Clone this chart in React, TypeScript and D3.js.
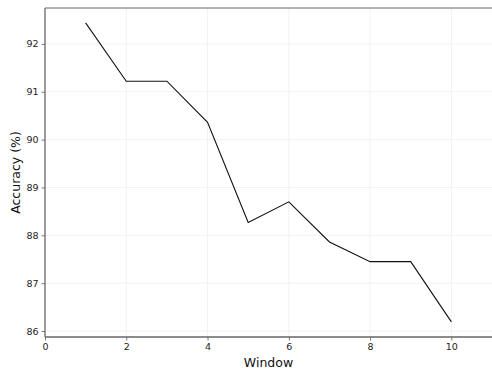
import { useEffect, useRef } from "react";
import * as d3 from "d3";

// data
const windows = [1, 2, 3, 4, 5, 6, 7, 8, 9, 10];
const accuracy = [92.44, 91.22, 91.22, 90.36, 88.27, 88.7, 87.86, 87.45, 87.45, 86.19];
const xTicks = [0, 2, 4, 6, 8, 10];
const yTicks = [86, 87, 88, 89, 90, 91, 92];

const W = 492;
const H = 369;

export default function App() {
  const ref = useRef<SVGSVGElement>(null);

  useEffect(() => {
    if (!ref.current) return;
    const svg = d3.select(ref.current);
    svg.selectAll("*").remove();

    const left = 45, right = 492, top = 8, bottom = 337;
    const font = "DejaVu Sans, sans-serif";

    const x = d3.scaleLinear().domain([0, 11]).range([left, right]);
    const y = d3.scaleLinear().domain([85.875, 92.75]).range([bottom, top]);

    // grid
    svg.append("g")
      .selectAll("line")
      .data(yTicks)
      .join("line")
      .attr("x1", left).attr("x2", right)
      .attr("y1", (d) => y(d)).attr("y2", (d) => y(d))
      .attr("stroke", "#f2f2f2").attr("stroke-width", 1);
    svg.append("g")
      .selectAll("line")
      .data(xTicks.filter((d) => d > 0))
      .join("line")
      .attr("x1", (d) => x(d)).attr("x2", (d) => x(d))
      .attr("y1", top).attr("y2", bottom)
      .attr("stroke", "#f2f2f2").attr("stroke-width", 1);

    // axes
    const xAxis = svg.append("g")
      .attr("transform", `translate(0,${bottom})`)
      .call(d3.axisBottom(x).tickValues(xTicks).tickSize(3.5).tickPadding(3).tickFormat(d3.format("d")));
    const yAxis = svg.append("g")
      .attr("transform", `translate(${left},0)`)
      .call(d3.axisLeft(y).tickValues(yTicks).tickSize(3.5).tickPadding(3).tickFormat(d3.format("d")));
    [xAxis, yAxis].forEach((a) => {
      a.select(".domain").remove();
      a.selectAll("line").attr("stroke", "#555").attr("stroke-width", 0.8);
      a.selectAll("text").attr("fill", "#222").style("font-family", font).style("font-size", "9.5px");
    });

    // spines
    svg.append("line")
      .attr("x1", left).attr("x2", right).attr("y1", top).attr("y2", top)
      .attr("stroke", "#666").attr("stroke-width", 1);
    svg.append("line")
      .attr("x1", left).attr("x2", left).attr("y1", top).attr("y2", bottom)
      .attr("stroke", "#666").attr("stroke-width", 1.3);
    svg.append("line")
      .attr("x1", left).attr("x2", right).attr("y1", bottom).attr("y2", bottom)
      .attr("stroke", "#666").attr("stroke-width", 1.3);

    // line
    const line = d3.line<number>()
      .x((_, i) => x(windows[i]))
      .y((d) => y(d));
    svg.append("path")
      .datum(accuracy)
      .attr("d", line)
      .attr("fill", "none")
      .attr("stroke", "#111")
      .attr("stroke-width", 1.1);

    // labels
    svg.append("text")
      .attr("x", (left + right) / 2)
      .attr("y", 367)
      .attr("text-anchor", "middle")
      .style("font-family", font)
      .style("font-size", "12.5px")
      .attr("fill", "#111")
      .text("Window");
    svg.append("text")
      .attr("transform", `translate(20,${(top + bottom) / 2}) rotate(-90)`)
      .attr("text-anchor", "middle")
      .style("font-family", font)
      .style("font-size", "12.5px")
      .attr("fill", "#111")
      .text("Accuracy (%)");
  }, []);

  return (
    <svg
      ref={ref}
      width={W}
      height={H}
      style={{ position: "absolute", left: 0, top: 0, background: "#fff" }}
    />
  );
}
